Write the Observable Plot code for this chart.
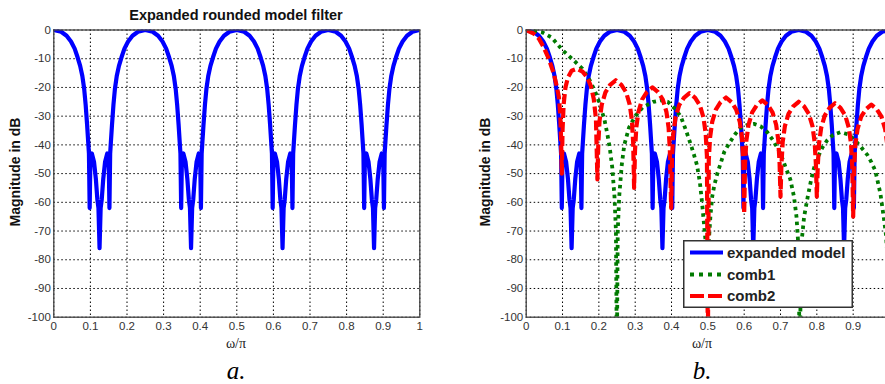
<!DOCTYPE html>
<html>
<head>
<meta charset="utf-8">
<script src="https://cdn.jsdelivr.net/npm/d3@7"></script>
<script src="https://cdn.jsdelivr.net/npm/@observablehq/plot@0.6"></script>
<style>
  html, body { margin: 0; padding: 0; background: #fff; width: 885px; height: 384px; overflow: hidden; }
  #root { position: relative; width: 885px; height: 384px; overflow: hidden; }
  .lbl { position: absolute; white-space: nowrap; line-height: 1; transform: translate(-50%, -50%); color: #111; }
  .ttl { font-family: "Liberation Sans", Arial, sans-serif; font-weight: bold; font-size: 14.5px; }
  .ylab { font-family: "Liberation Sans", Arial, sans-serif; font-weight: bold; font-size: 14px; transform: translate(-50%, -50%) rotate(-90deg); }
  .xlab { font-family: "Liberation Serif", "Times New Roman", serif; font-size: 14px; color: #222; }
  .cap { font-family: "Liberation Serif", "Times New Roman", serif; font-style: italic; font-size: 25px; color: #000; }
  .plotbox { position: absolute; top: 0; }
  .plotbox svg { max-width: none !important; }
</style>
</head>
<body>
<div id="root"></div>
<script>
// ---- data ----
const xTicks = [0, 0.1, 0.2, 0.3, 0.4, 0.5, 0.6, 0.7, 0.8, 0.9, 1];
const xTickLabels = ["0", "0.1", "0.2", "0.3", "0.4", "0.5", "0.6", "0.7", "0.8", "0.9", "1"];
// the right panel is cut at the window edge in the reference: its "1" label is not visible
const xTickLabelsRight = ["0", "0.1", "0.2", "0.3", "0.4", "0.5", "0.6", "0.7", "0.8", "0.9", ""];
const yTicks = [0, -10, -20, -30, -40, -50, -60, -70, -80, -90, -100];
const yTickLabels = ["0", "-10", "-20", "-30", "-40", "-50", "-60", "-70", "-80", "-90", "-100"];

const seriesNames = ["expanded model", "comb1", "comb2"];
const titleA = "Expanded rounded model filter";
const yLabel = "Magnitude in dB";
const xLabel = "ω/π";
const captions = ["a.", "b."];

// expanded model (blue)
const blueX = [
  0, 0.02, 0.035, 0.047, 0.057, 0.065, 0.072, 0.078, 0.083, 0.087, 0.091, 0.094, 0.096,
  0.098, 0.100, 0.104, 0.110, 0.115, 0.119, 0.122, 0.125, 0.128, 0.131, 0.135, 0.140, 0.146, 0.150, 0.152,
  0.154, 0.156, 0.159, 0.163, 0.167, 0.172, 0.178, 0.185, 0.193, 0.203, 0.215, 0.230, 0.250, 0.270, 0.285, 0.297, 0.307, 0.315, 0.322, 0.328, 0.333, 0.337, 0.341, 0.344, 0.346,
  0.348, 0.350, 0.354, 0.360, 0.365, 0.369, 0.372, 0.375, 0.378, 0.381, 0.385, 0.390, 0.396, 0.400, 0.402,
  0.404, 0.406, 0.409, 0.413, 0.417, 0.422, 0.428, 0.435, 0.443, 0.453, 0.465, 0.480, 0.500, 0.520, 0.535, 0.547, 0.557, 0.565, 0.572, 0.578, 0.583, 0.587, 0.591, 0.594, 0.596,
  0.598, 0.600, 0.604, 0.610, 0.615, 0.619, 0.622, 0.625, 0.628, 0.631, 0.635, 0.640, 0.646, 0.650, 0.652,
  0.654, 0.656, 0.659, 0.663, 0.667, 0.672, 0.678, 0.685, 0.693, 0.703, 0.715, 0.730, 0.750, 0.770, 0.785, 0.797, 0.807, 0.815, 0.822, 0.828, 0.833, 0.837, 0.841, 0.844, 0.846,
  0.848, 0.850, 0.854, 0.860, 0.865, 0.869, 0.872, 0.875, 0.878, 0.881, 0.885, 0.890, 0.896, 0.900, 0.902,
  0.904, 0.906, 0.909, 0.913, 0.917, 0.922, 0.928, 0.935, 0.943, 0.953, 0.965, 0.980, 1.000
];
const blueY = [
  0, -0.6, -2, -4, -6.5, -9.5, -12.5, -16, -20.5, -26, -33, -39, -43,
  -62, -45, -43, -46, -52, -59, -62, -76, -62, -59, -52, -46, -43, -45, -62,
  -43, -39, -33, -26, -20.5, -16, -12.5, -9.5, -6.5, -4, -2, -0.6, 0, -0.6, -2, -4, -6.5, -9.5, -12.5, -16, -20.5, -26, -33, -39, -43,
  -62, -45, -43, -46, -52, -59, -62, -76, -62, -59, -52, -46, -43, -45, -62,
  -43, -39, -33, -26, -20.5, -16, -12.5, -9.5, -6.5, -4, -2, -0.6, 0, -0.6, -2, -4, -6.5, -9.5, -12.5, -16, -20.5, -26, -33, -39, -43,
  -62, -45, -43, -46, -52, -59, -62, -76, -62, -59, -52, -46, -43, -45, -62,
  -43, -39, -33, -26, -20.5, -16, -12.5, -9.5, -6.5, -4, -2, -0.6, 0, -0.6, -2, -4, -6.5, -9.5, -12.5, -16, -20.5, -26, -33, -39, -43,
  -62, -45, -43, -46, -52, -59, -62, -76, -62, -59, -52, -46, -43, -45, -62,
  -43, -39, -33, -26, -20.5, -16, -12.5, -9.5, -6.5, -4, -2, -0.6, 0
];

// comb1 (green, dotted)
const greenX = [
  0, 0.02, 0.044, 0.07, 0.1, 0.13, 0.155, 0.177, 0.195, 0.205, 0.215, 0.223, 0.23, 0.237, 0.243, 0.247, 0.2495,
  0.252, 0.256, 0.263, 0.27, 0.283, 0.3, 0.32, 0.35, 0.37, 0.39, 0.41, 0.425, 0.44, 0.452, 0.462, 0.47, 0.478, 0.484, 0.489, 0.494, 0.498,
  0.502, 0.507, 0.512, 0.518, 0.526, 0.535, 0.545, 0.558, 0.575, 0.59, 0.61, 0.627, 0.645, 0.663, 0.68, 0.7, 0.714, 0.727, 0.737, 0.744, 0.749, 0.753,
  0.757, 0.765, 0.775, 0.783, 0.79, 0.8, 0.815, 0.828, 0.845, 0.865, 0.885, 0.902, 0.92, 0.939, 0.95, 0.961, 0.975, 0.985, 0.99, 0.995, 1
];
const greenY = [
  0, -0.2, -0.8, -2.6, -7, -10.5, -13.5, -18, -23, -27, -31, -36, -41, -48, -58, -70, -115,
  -70, -58, -47, -40, -34, -30, -27, -25, -24.5, -25, -27.5, -30, -35, -39.5, -43.5, -47, -53, -60, -67, -74, -78,
  -75, -65, -58, -54, -50, -46.5, -42.5, -39.6, -36.3, -34, -33, -32.7, -33.5, -35.5, -38.5, -43, -47.8, -52, -58, -65, -75, -115,
  -75, -65, -58, -53, -49, -45, -41, -38.5, -36.5, -35.6, -36.3, -38, -40.5, -43.5, -46, -49, -57, -66, -71, -80, -110
];

// comb2 (red, dashed)
const redX = [
  0, 0.021, 0.035, 0.048, 0.062, 0.076, 0.084, 0.09, 0.094, 0.096, 0.098,
  0.1, 0.103, 0.108, 0.115, 0.125, 0.14, 0.155, 0.168, 0.178, 0.186, 0.192, 0.196,
  0.1985, 0.202, 0.208, 0.218, 0.231, 0.2465, 0.262, 0.275, 0.285, 0.291, 0.2945, 0.297,
  0.2995, 0.303, 0.309, 0.319, 0.332, 0.3475, 0.363, 0.376, 0.386, 0.392, 0.3955, 0.399,
  0.4015, 0.405, 0.411, 0.421, 0.434, 0.4495, 0.465, 0.478, 0.488, 0.494, 0.4975, 0.5,
  0.5025, 0.506, 0.512, 0.522, 0.535, 0.55, 0.565, 0.578, 0.588, 0.594, 0.5975, 0.6,
  0.6025, 0.606, 0.612, 0.622, 0.635, 0.65, 0.665, 0.678, 0.688, 0.694, 0.6975, 0.7,
  0.7025, 0.706, 0.712, 0.722, 0.735, 0.75, 0.765, 0.778, 0.788, 0.794, 0.7975, 0.8,
  0.8025, 0.806, 0.812, 0.822, 0.835, 0.85, 0.865, 0.878, 0.888, 0.894, 0.8975, 0.9,
  0.9025, 0.906, 0.912, 0.922, 0.935, 0.95, 0.965, 0.978, 0.988, 0.994, 0.9975, 1
];
const redY = [
  0, -1.3, -3, -6, -10, -15.2, -19.5, -23.4, -30, -38, -50,
  -35, -26, -20, -16.5, -14.2, -13.5, -14.5, -16.5, -19.5, -24, -31, -52,
  -39.5, -31.5, -26, -21.7, -19.1, -17.5, -19.1, -21.7, -26, -31.5, -39.5, -55,
  -42, -34, -28.5, -24.2, -21.6, -20, -21.6, -24.2, -28.5, -34, -42, -62,
  -44, -36, -30.5, -26.2, -23.6, -22, -23.6, -26.2, -30.5, -36, -44, -115,
  -45.5, -37.5, -32, -27.7, -25.1, -23.5, -25.1, -27.7, -32, -37.5, -45.5, -64,
  -46.5, -38.5, -33, -28.7, -26.1, -24.5, -26.1, -28.7, -33, -38.5, -46.5, -58,
  -47, -39, -33.5, -29.2, -26.6, -25, -26.6, -29.2, -33.5, -39, -47, -58,
  -47.5, -39.5, -34, -29.7, -27.1, -25.5, -27.1, -29.7, -34, -39.5, -47.5, -65,
  -48, -40, -34.5, -30.2, -27.6, -26, -27.6, -30.2, -34.5, -40, -48, -60
];

// ---- build tables ----
function table(xs, ys) {
  const n = Math.min(xs.length, ys.length);
  const out = [];
  for (let i = 0; i < n; i++) out.push({x: xs[i], y: ys[i]});
  return out;
}
const blue = table(blueX, blueY);
const green = table(greenX, greenY);
const red = table(redX, redY);

const BLUE = "#0000ff", GREEN = "#007a00", RED = "#ff0000";
const blueStyle = {stroke: BLUE, strokeWidth: 4.2, strokeLinejoin: "round", strokeLinecap: "butt"};
const greenStyle = {stroke: GREEN, strokeWidth: 3.8, strokeDasharray: "3.5,4", strokeLinecap: "butt"};
const redStyle = {stroke: RED, strokeWidth: 4.2, strokeDasharray: "10,4", strokeLinecap: "butt", strokeLinejoin: "round"};

function makeChart({width, marginLeft, marginRight, lines, xLabels}) {
  return Plot.plot({
    width, height: 384,
    marginTop: 29.5, marginBottom: 67.3, marginLeft, marginRight,
    style: {fontFamily: "'Liberation Sans', Arial, sans-serif", fontSize: "11.5px", color: "#333", background: "transparent", overflow: "visible", maxWidth: "none"},
    x: {domain: [0, 1], ticks: xTicks, tickFormat: d => xLabels[xTicks.indexOf(d)], tickSize: 0, tickPadding: 5, label: null},
    y: {domain: [-100, 0], ticks: yTicks, tickFormat: d => yTickLabels[yTicks.indexOf(d)], tickSize: 0, tickPadding: 3, label: null},
    marks: [
      Plot.ruleX(xTicks, {stroke: "#000", strokeOpacity: 1, strokeWidth: 1, strokeDasharray: "1.5,2.5"}),
      Plot.ruleY(yTicks, {stroke: "#000", strokeOpacity: 1, strokeWidth: 1, strokeDasharray: "1.5,2.5"}),
      ...lines,
      Plot.frame({stroke: "#444", strokeWidth: 1.3})
    ]
  });
}

const root = document.getElementById("root");

// left chart
const left = makeChart({
  width: 440, marginLeft: 53.3, marginRight: 20.7, xLabels: xTickLabels,
  lines: [Plot.line(blue, {x: "x", y: "y", ...blueStyle, clip: true})]
});
const leftBox = document.createElement("div");
leftBox.className = "plotbox"; leftBox.style.left = "0px"; leftBox.style.width = "440px";
leftBox.appendChild(left);
root.appendChild(leftBox);

// right chart (extends past the window edge, as in the reference)
const right = makeChart({
  width: 460, marginLeft: 85.7, marginRight: 11, xLabels: xTickLabelsRight,
  lines: [
    Plot.line(blue, {x: "x", y: "y", ...blueStyle, clip: true}),
    Plot.line(green, {x: "x", y: "y", ...greenStyle, clip: true}),
    Plot.line(red, {x: "x", y: "y", ...redStyle, clip: true})
  ]
});
const rightBox = document.createElement("div");
rightBox.className = "plotbox"; rightBox.style.left = "440px"; rightBox.style.width = "460px";
rightBox.appendChild(right);
root.appendChild(rightBox);

// text labels
function label(text, cls, x, y) {
  const d = document.createElement("div");
  d.className = "lbl " + cls;
  d.style.left = x + "px"; d.style.top = y + "px";
  d.textContent = text;
  root.appendChild(d);
}
label(titleA, "ttl", 236, 15);
label(yLabel, "ylab", 15, 172);
label(yLabel, "ylab", 485, 172);
label(xLabel, "xlab", 236, 344);
label(xLabel, "xlab", 702, 344);
label(captions[0], "cap", 236, 370);
label(captions[1], "cap", 702, 370);

// legend (inside the right plot)
const ns = "http://www.w3.org/2000/svg";
const leg = document.createElementNS(ns, "svg");
leg.setAttribute("width", 170); leg.setAttribute("height", 68);
leg.style.position = "absolute"; leg.style.left = "683px"; leg.style.top = "240px";
const bg = document.createElementNS(ns, "rect");
bg.setAttribute("x", 0.75); bg.setAttribute("y", 0.75); bg.setAttribute("width", 168.5); bg.setAttribute("height", 66.5);
bg.setAttribute("fill", "#fff"); bg.setAttribute("stroke", "#333"); bg.setAttribute("stroke-width", 1.5);
leg.appendChild(bg);
const legStyles = [
  {stroke: BLUE, dash: null, w: 4.2},
  {stroke: GREEN, dash: "4,5", w: 3.8},
  {stroke: RED, dash: "14,4", w: 4.2}
];
const rowsY = [12.5, 34.5, 56];
seriesNames.forEach((name, i) => {
  const ln = document.createElementNS(ns, "line");
  ln.setAttribute("x1", 7); ln.setAttribute("x2", 40);
  ln.setAttribute("y1", rowsY[i]); ln.setAttribute("y2", rowsY[i]);
  ln.setAttribute("stroke", legStyles[i].stroke);
  ln.setAttribute("stroke-width", legStyles[i].w);
  if (legStyles[i].dash) ln.setAttribute("stroke-dasharray", legStyles[i].dash);
  leg.appendChild(ln);
  const t = document.createElementNS(ns, "text");
  t.setAttribute("x", 44); t.setAttribute("y", rowsY[i]);
  t.setAttribute("dy", "0.35em");
  t.setAttribute("font-family", "'Liberation Sans', Arial, sans-serif");
  t.setAttribute("font-weight", "bold");
  t.setAttribute("font-size", "15px");
  t.setAttribute("fill", "#222");
  t.textContent = name;
  leg.appendChild(t);
});
root.appendChild(leg);
</script>
</body>
</html>
